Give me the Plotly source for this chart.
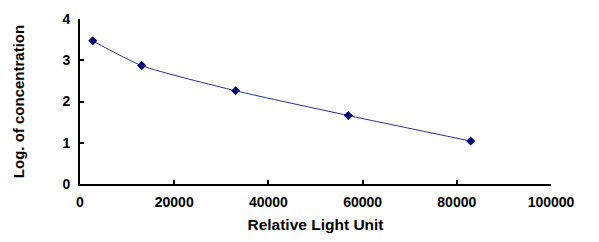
import plotly.graph_objects as go

rlu = [2700, 13100, 33050, 56970, 82950]
log_conc = [3.47, 2.87, 2.26, 1.66, 1.04]
x_ticks = [0, 20000, 40000, 60000, 80000, 100000]
y_ticks = [0, 1, 2, 3, 4]

fig = go.Figure()
fig.add_trace(go.Scatter(
    x=rlu, y=log_conc, mode="lines+markers",
    line=dict(color="#2e2e8a", width=1, shape="spline", smoothing=0.6),
    marker=dict(symbol="diamond", size=7, color="#000070"),
    showlegend=False,
))

font = dict(family="Liberation Sans, Arial, sans-serif", size=14, color="black")
fig.update_layout(
    width=599, height=242,
    margin=dict(l=80, r=48, t=19, b=58),
    paper_bgcolor="white", plot_bgcolor="white",
    font=font,
    xaxis=dict(
        range=[0, 100000], tickvals=x_ticks, ticktext=[f"<b>{v}</b>" for v in x_ticks],
        showgrid=False, zeroline=False, showline=True, linecolor="black", linewidth=2,
        ticks="inside", ticklen=4, tickwidth=1.5, tickcolor="black",
        ticklabelstandoff=4,
        title=dict(text="<b>Relative Light Unit</b>", font=dict(size=15.5), standoff=10),
        automargin=False,
    ),
    yaxis=dict(
        range=[0, 4], tickvals=y_ticks, ticktext=[f"<b>{v}</b>" for v in y_ticks],
        showgrid=False, zeroline=False, showline=True, linecolor="black", linewidth=2,
        ticks="inside", ticklen=4, tickwidth=1.5, tickcolor="black",
        ticklabelstandoff=5,
        title=dict(text="<b>Log. of concentration</b>", font=dict(size=15), standoff=34),
        automargin=False,
    ),
)
fig.write_html("out.html")
